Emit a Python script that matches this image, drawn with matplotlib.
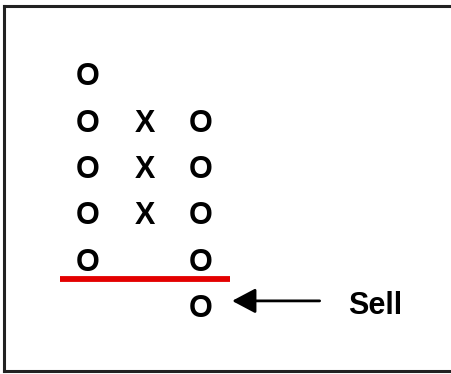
"""Point & figure sell signal: double-bottom breakdown."""

import matplotlib

matplotlib.use("Agg")
import matplotlib.pyplot as plt
from matplotlib.lines import Line2D

# P&F columns and the box levels each one fills
col_marks = ["O", "X", "O"]
col_levels = [
    [6, 5, 4, 3, 2],
    [5, 4, 3],
    [5, 4, 3, 2, 1],
]
support_level = 1.57
signal_label = "Sell"

fig = plt.figure(figsize=(4.51, 3.74), dpi=100)
ax = fig.add_axes([0, 0, 1, 1])
ax.set_xlim(-1.558, 6.425)
ax.set_ylim(-0.479, 7.598)
ax.axis("off")

font = dict(family="Liberation Sans", weight="bold")

for i, (mark, levels) in enumerate(zip(col_marks, col_levels)):
    for lv in levels:
        ax.text(i, lv, mark, ha="center", va="center_baseline", fontsize=22,
                color="black", **font)

# broken support line
ax.plot([-0.5, 2.51], [support_level, support_level], color="#e30000", lw=4.2,
        solid_capstyle="butt")

# arrow pointing at the breakdown box
last_col = len(col_marks) - 1
sell_y = min(col_levels[last_col])
ax.annotate(
    "",
    xy=(last_col + 0.55, sell_y + 0.1),
    xytext=(last_col + 2.1, sell_y + 0.1),
    arrowprops=dict(arrowstyle="-|>,head_length=1.0,head_width=0.53", color="black",
                    lw=2, mutation_scale=14.4, shrinkA=0, shrinkB=0),
)
ax.text(last_col + 2.6, sell_y, signal_label, ha="left", va="center", fontsize=22,
        color="black", **font)

# frame (open on the right side)
W, H = 451, 374
frame = dict(color="#222222", lw=2.2, transform=fig.transFigure)
fig.add_artist(Line2D([3.5 / W, 1.0], [1 - 5.5 / H, 1 - 5.5 / H], **frame))
fig.add_artist(Line2D([3.5 / W, 3.5 / W], [1 - 5.5 / H, 1 - 370.5 / H], **frame))
fig.add_artist(Line2D([3.5 / W, 1.0], [1 - 370.5 / H, 1 - 370.5 / H], **frame))

fig.savefig("out.png", dpi=100)
